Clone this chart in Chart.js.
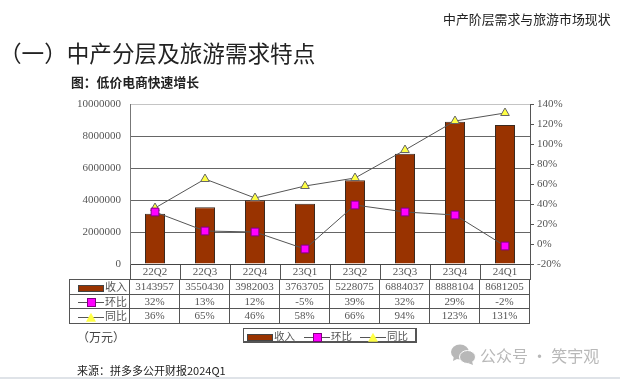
<!DOCTYPE html>
<html lang="zh-CN">
<head>
<meta charset="utf-8">
<style>
  html, body { margin: 0; padding: 0; background: #fff; }
  #page { position: relative; width: 620px; height: 379px; overflow: hidden; font-family: "Noto Sans CJK SC", sans-serif; color: #222; }
  #page > div, #page > table, #page > canvas { position: absolute; white-space: nowrap; }
  #myChart { left: 0; top: 0; }
  #header { left: 443px; top: 11px; font-size: 12.9px; line-height: 16px; }
  #title { left: -1px; top: 37px; font-size: 22.6px; line-height: 32px; }
  #subtitle { left: 71px; top: 74px; font-size: 12.8px; line-height: 16px; font-weight: bold; }
  #unit { left: 77px; top: 329px; font-size: 12px; line-height: 16px; color: #444; }
  #source { left: 77px; top: 362px; font-size: 11px; line-height: 16px; }
  #rule { left: 0; top: 377px; width: 620px; height: 2px; background: #dfe3e8; }
  #table { left: 69px; top: 279px; border-collapse: collapse; table-layout: fixed; width: 461px; font: 11px "Liberation Serif", "Noto Sans CJK SC", serif; color: #555; }
  #table td { border: 1px solid #555; padding: 0; height: 13.5px; line-height: 13px; text-align: center; overflow: hidden; }
  #table td.name { width: 60px; text-align: right; padding-right: 2px; box-sizing: border-box; font-family: "Noto Sans CJK SC", sans-serif; }
  #legend { left: 243px; top: 328px; width: 174px; height: 15px; box-sizing: border-box; border: 1px solid #555; border-right-width: 2px; border-bottom-width: 2px; font-size: 10.5px; line-height: 13px; color: #555; }
  .key { display: inline-block; vertical-align: middle; position: relative; margin-right: 1px; }
  .key.bar { width: 24px; height: 5px; background: #993300; border: 1px solid #444; box-sizing: content-box; }
  .key.sq, .key.tri { width: 26px; height: 9px; }
  .key.sq::before, .key.tri::before { content: ""; position: absolute; left: 0; right: 0; top: 4px; height: 1px; background: #555; }
  .key.sq::after { content: ""; position: absolute; left: 9px; top: 0; width: 7px; height: 7px; background: #ff00ff; border: 1px solid #800080; }
  .key.tri::after { content: ""; position: absolute; left: 8px; top: 0; width: 10px; height: 9px; background: #ffff44; clip-path: polygon(50% 0, 100% 100%, 0 100%); }
  #legend span.item { position: absolute; top: 0; }
  #mark { left: 480px; top: 343px; font-size: 16px; line-height: 24px; color: #b8b8b8; }
  #icon { left: 451px; top: 344px; }
</style>
</head>
<body>
<div id="page">
  <canvas id="myChart" width="620" height="379"></canvas>
  <div id="header">中产阶层需求与旅游市场现状</div>
  <div id="title">（一）中产分层及旅游需求特点</div>
  <div id="subtitle">图：低价电商快速增长</div>
  <table id="table"></table>
  <div id="unit">（万元）</div>
  <div id="legend"></div>
  <div id="source">来源：拼多多公开财报2024Q1</div>
  <div id="icon"><svg width="25" height="21" viewBox="0 0 25 21"><ellipse cx="9" cy="8" rx="9" ry="7.5" fill="#b8b8b8"/><path d="M3 12 L2 17 L8 14 Z" fill="#b8b8b8"/><ellipse cx="16.5" cy="13" rx="8" ry="6.5" fill="#b8b8b8" stroke="#fff"/><path d="M21 17 L22 21 L17 19 Z" fill="#b8b8b8"/></svg></div>
  <div id="mark">公众号 · 笑宇观</div>
  <div id="rule"></div>
</div>
<script src="https://cdn.jsdelivr.net/npm/chart.js"></script>
<script>
const labels = ['22Q2', '22Q3', '22Q4', '23Q1', '23Q2', '23Q3', '23Q4', '24Q1'];
const revenue = [3143957, 3550430, 3982003, 3763705, 5228075, 6884037, 8888104, 8681205];
const qoq = [32, 13, 12, -5, 39, 32, 29, -2];
const yoy = [36, 65, 46, 58, 66, 94, 123, 131];
const revenueName = '收入';
const qoqName = '环比';
const yoyName = '同比';

// table under the plot, built from the same arrays
const pct = v => (v < 0 ? '-' + Math.abs(v) : v) + '%';
const rows = [
  ['bar', revenueName, revenue],
  ['sq', qoqName, qoq.map(pct)],
  ['tri', yoyName, yoy.map(pct)]
];
document.getElementById('table').innerHTML = rows.map(r =>
  `<tr><td class="name"><span class="key ${r[0]}"></span>${r[1]}</td>` +
  r[2].map(v => `<td>${v}</td>`).join('') + '</tr>'
).join('');

const legendItems = [['bar', revenueName, 3], ['sq', qoqName, 60], ['tri', yoyName, 116]];
document.getElementById('legend').innerHTML = legendItems.map(r =>
  `<span class="item" style="left:${r[2]}px"><span class="key ${r[0]}"></span>${r[1]}</span>`
).join('');

const tickFont = { family: '"Liberation Serif", serif', size: 11 };

const config = {
  type: 'bar',
  data: {
    labels: labels,
    datasets: [
      {
        type: 'line', label: qoqName, data: qoq, yAxisID: 'y1', order: 1,
        borderColor: '#555', borderWidth: 1, tension: 0,
        pointStyle: 'rect', pointRadius: 5.5, pointBackgroundColor: '#ff00ff', pointBorderColor: '#800080', pointBorderWidth: 1
      },
      {
        type: 'line', label: yoyName, data: yoy, yAxisID: 'y1', order: 2,
        borderColor: '#555', borderWidth: 1, tension: 0,
        pointStyle: 'triangle', pointRadius: 5, pointBackgroundColor: '#ffff44', pointBorderColor: '#666', pointBorderWidth: 1
      },
      {
        type: 'bar', label: revenueName, data: revenue, yAxisID: 'y', order: 3,
        backgroundColor: '#993300', borderColor: '#3a2a20', borderWidth: 1,
        barPercentage: 0.8, categoryPercentage: 0.5
      }
    ]
  },
  options: {
    responsive: false,
    animation: false,
    layout: { padding: { top: 104, bottom: 99, left: 0, right: 0 } },
    plugins: { legend: { display: false }, tooltip: { enabled: false } },
    scales: {
      x: {
        offset: true,
        border: { color: '#444', width: 1 },
        grid: { display: true, offset: true, drawOnChartArea: false, drawTicks: true, tickLength: 16, color: '#555' },
        ticks: { color: '#555', font: tickFont, padding: -14, maxRotation: 0 },
        afterFit(s) { s.height = 16; }
      },
      y: {
        position: 'left', min: 0, max: 10000000,
        border: { color: '#777', width: 1 },
        grid: { color: ctx => ctx.tick.value === 10000000 ? '#c4c4c4' : '#666', drawTicks: false },
        ticks: { stepSize: 2000000, color: '#555', font: tickFont, padding: 9, callback: v => String(v) },
        afterFit(s) { s.width = 130; }
      },
      y1: {
        position: 'right', min: -20, max: 140,
        border: { color: '#555', width: 1 },
        grid: { drawOnChartArea: false, tickLength: 4, color: '#555' },
        ticks: { stepSize: 20, color: '#555', font: tickFont, padding: 3, callback: v => v + '%' },
        afterFit(s) { s.width = 90; }
      }
    }
  }
};

const myChart = new Chart(document.getElementById('myChart'), config);
</script>
</body>
</html>
